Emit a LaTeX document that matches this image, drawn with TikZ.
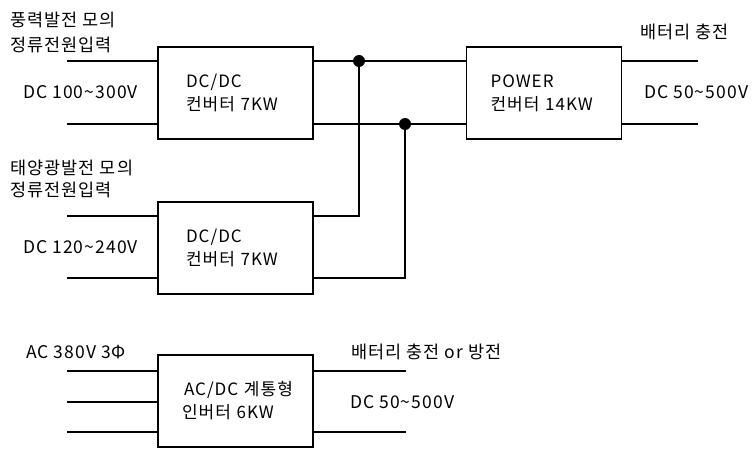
\documentclass[tikz,border=0pt]{standalone}
\usepackage{fontspec}
\setmainfont{Noto Sans CJK KR}[LetterSpace=6]
\usetikzlibrary{positioning}

\tikzset{
  conv/.style={draw, line width=1.1pt, minimum width=155pt, minimum height=92pt,
    inner xsep=24pt, text width=107pt, align=left, font=\fontsize{17}{23}\selectfont},
  lbl/.style={anchor=west, inner sep=0pt, font=\fontsize{17.5}{17}\selectfont},
  wire/.style={line width=1.1pt},
  junc/.style={circle, fill, inner sep=0pt, minimum size=12pt}
}

\begin{document}
\begin{tikzpicture}[x=1pt,y=-1pt]
    \useasboundingbox (0,0) rectangle (755,457);

    % converter blocks
    \node (dc1) [conv] at (235.5,93) {\hspace*{4pt}DC/DC\\\hspace*{4pt}컨버터~7KW};
    \node (pwr) [conv] at (544,93) {POWER\\컨버터~14KW};
    \node (dc2) [conv] at (235.5,248) {\hspace*{4pt}DC/DC\\\hspace*{4pt}컨버터~7KW};
    \node (inv) [conv] at (235.5,401) {\hspace*{2pt}AC/DC~계통형\\인버터~6KW};

    % junction points
    \node (j1) [junc] at (359,61) {};
    \node (j2) [junc] at (405,124) {};

    % free ends of the wires
    \coordinate (in1a) at (67,61);
    \coordinate (in1b) at (67,124);
    \coordinate (in2a) at (67,216);
    \coordinate (in2b) at (67,278);
    \coordinate (in3a) at (67,371);
    \coordinate (in3b) at (67,402);
    \coordinate (in3c) at (67,432);
    \coordinate (out1a) at (698,61);
    \coordinate (out1b) at (698,124);
    \coordinate (out3a) at (406,371);
    \coordinate (out3b) at (406,432);

    % texts
    \node (t1a) [lbl] at (10,20) {풍력발전 모의};
    \node (t1b) [lbl] at (10,45) {정류전원입력};
    \node (v1) [lbl] at (23,92) {DC 100\textasciitilde300V};
    \node (t2a) [lbl] at (10,168) {태양광발전 모의};
    \node (t2b) [lbl] at (10,190) {정류전원입력};
    \node (v2) [lbl] at (23,247) {DC 120\textasciitilde240V};
    \node (t3) [lbl] at (26,352) {AC 380V 3Φ};
    \node (b1) [lbl] at (640,32) {배터리 충전};
    \node (v3) [lbl] at (644,92) {DC 50\textasciitilde500V};
    \node (b2) [lbl] at (351,352) {배터리 충전 or 방전};
    \node (v4) [lbl] at (350,402) {DC 50\textasciitilde500V};

    % wires
    \draw [wire] (in1a) -- (in1a -| dc1.west);
    \draw [wire] (in1b) -- (in1b -| dc1.west);
    \draw [wire] (dc1.east |- j1) -- (j1) -- (pwr.west |- j1);
    \draw [wire] (dc1.east |- j2) -- (j2) -- (pwr.west |- j2);
    \draw [wire] (pwr.east |- out1a) -- (out1a);
    \draw [wire] (pwr.east |- out1b) -- (out1b);

    \draw [wire] (in2a) -- (in2a -| dc2.west);
    \draw [wire] (in2b) -- (in2b -| dc2.west);
    \draw [wire] (dc2.east |- in2a) -| (j1);
    \draw [wire] (dc2.east |- in2b) -| (j2);

    \draw [wire] (in3a) -- (in3a -| inv.west);
    \draw [wire] (in3b) -- (in3b -| inv.west);
    \draw [wire] (in3c) -- (in3c -| inv.west);
    \draw [wire] (inv.east |- out3a) -- (out3a);
    \draw [wire] (inv.east |- out3b) -- (out3b);
\end{tikzpicture}
\end{document}
